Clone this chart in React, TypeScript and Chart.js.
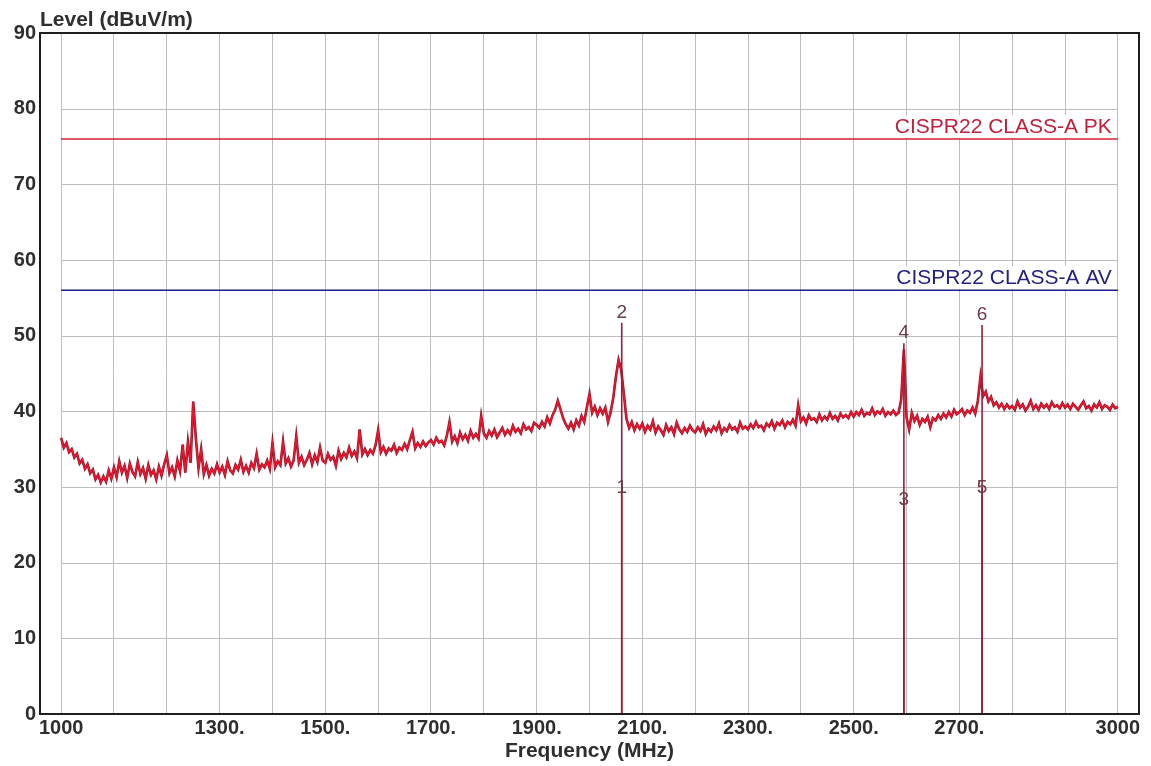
import React, { useEffect, useRef } from "react";
import { Chart, registerables } from "chart.js";

Chart.register(...registerables);

// ---------------- data ----------------
const traceStartMHz = 1000;
const traceStepMHz = 5;
// 1000 - 1495 MHz
const traceBandA = [
  36.5, 35.2, 35.8, 34.6, 35.0, 33.9, 34.4, 33.1, 33.6, 32.4, 33.0, 31.8, 32.3, 31.0, 31.6, 30.6, 31.4, 30.7, 32.2, 31.1,
  32.6, 31.3, 33.4, 31.9, 32.8, 31.2, 33.1, 32.0, 31.4, 33.3, 31.7, 32.5, 31.1, 32.9, 31.6, 32.2, 31.0, 32.7, 31.5, 33.0,
  34.2, 31.8, 32.6, 31.4, 33.5, 32.1, 35.6, 31.9, 36.0, 33.2, 41.3, 36.4, 32.5, 35.0, 31.7, 32.9, 31.5, 32.4, 31.8, 33.0,
  31.9, 32.7, 31.6, 33.4, 32.2, 31.8, 32.9, 32.3, 33.6, 32.0, 32.8, 31.9, 33.2, 32.5, 34.4, 32.3, 33.0, 32.6, 33.5, 32.4,
  35.8, 32.6, 33.4, 32.9, 36.0, 33.1, 33.8, 32.7, 33.5, 36.7, 33.2, 34.0, 32.9, 33.6, 34.5, 33.0, 34.2, 33.3, 35.2, 33.5,
];
// 1500 - 1995 MHz
const traceBandB = [
  33.2, 34.4, 33.6, 34.0, 32.8, 34.8, 33.7, 34.5, 33.9, 35.2, 34.1, 34.7, 33.8, 37.6, 34.3, 35.0, 34.2, 34.9, 34.4, 35.5,
  37.5, 34.6, 35.3, 34.4, 35.1, 34.8, 35.6, 34.5, 35.2, 34.9, 35.7, 35.0, 36.2, 37.3, 35.1, 35.8, 35.3, 36.0, 35.4, 35.9,
  36.2, 35.6, 36.5, 35.9, 36.1, 35.5, 36.8, 38.6, 36.0, 36.7, 35.8, 37.2, 36.3, 36.9, 36.1, 37.4, 36.5, 37.0, 36.4, 39.4,
  37.1, 36.5, 37.4, 36.8, 37.6, 36.6, 37.2, 37.8, 36.9, 37.5, 37.0, 38.1, 37.3, 37.7, 37.1, 38.3, 37.6, 37.9, 37.4, 38.5,
  38.2, 37.8, 38.6, 38.0, 39.2, 38.4, 39.5, 40.2, 41.4, 40.3, 39.1, 38.3, 37.7, 38.5, 37.6, 38.8, 38.1, 39.4, 38.6, 40.5,
];
// 2000 - 2495 MHz
const traceBandC = [
  42.3, 39.8, 40.6, 39.5, 40.4, 39.7, 40.5, 38.6, 39.9, 41.8, 44.6, 46.8, 45.5, 42.3, 39.0, 37.8, 38.6, 37.5, 38.3, 37.7,
  38.4, 37.3, 38.1, 37.6, 38.7, 37.2, 38.0, 37.5, 36.9, 38.2, 37.4, 37.9, 37.0, 38.5, 37.6, 37.1, 37.8, 37.3, 38.1, 37.5,
  37.2, 37.9, 37.4, 38.3, 37.0, 37.7, 37.3, 38.0, 37.5, 38.4, 37.1, 37.8, 37.4, 38.2, 37.6, 37.9, 37.3, 38.5, 37.7, 38.0,
  37.6, 38.3, 37.8, 38.6, 37.9, 38.1, 37.5, 38.4, 38.0, 38.7, 37.7, 38.5, 38.2, 38.8, 37.9, 38.6, 38.3, 38.9, 38.1, 40.8,
  38.7, 39.2, 38.4, 39.5, 38.9, 39.1, 38.6, 39.6, 38.8, 39.3, 38.9, 39.8, 39.0, 39.4, 38.8, 39.7, 39.2, 39.5, 39.1, 39.9,
];
// 2500 - 3000 MHz
const traceBandD = [
  39.3, 39.9, 39.5, 40.2, 39.4, 39.8, 39.6, 40.4, 39.5, 40.0, 39.7, 40.3, 39.4, 39.9, 39.6, 40.1, 39.5, 39.8, 41.6, 48.2,
  39.2, 37.6, 39.8, 38.7, 39.4, 38.2, 39.0, 38.6, 39.3, 37.9, 39.1, 38.8, 39.5, 39.0, 39.7, 39.2, 39.9, 39.3, 40.2, 39.6,
  39.9, 40.3, 39.5, 40.1, 39.8, 40.5, 39.7, 41.4, 44.6, 42.0, 42.6, 41.3, 41.9, 40.8, 41.2, 40.5, 41.0, 40.3, 40.9, 40.4,
  40.7, 40.2, 41.3, 40.5, 40.9, 40.1, 40.6, 41.4, 40.3, 40.8, 40.2, 41.0, 40.5, 40.9, 40.3, 41.2, 40.6, 40.8, 40.4, 41.1,
  40.5, 40.9, 40.3, 41.0, 40.6, 40.2, 40.8, 41.3, 40.4, 40.7, 40.1, 40.9, 40.5, 41.2, 40.3, 40.8, 40.6, 40.2, 40.9, 40.4, 40.6,
];

const limitNames = ["CISPR22 CLASS-A PK", "CISPR22 CLASS-A AV"];
const limitLevels = [76, 56];
const limitStartMHz = 1000;
const limitEndMHz = 3000;

const markerNumbers = ["1", "2", "3", "4", "5", "6"];
const markerDetectors = ["AV", "PK", "AV", "PK", "AV", "PK"];
const markerFreqs = [2061, 2061, 2595, 2595, 2743, 2743];
const markerLevels = [29.9, 51.7, 28.3, 49.0, 29.9, 51.4];

const xGridValues = [
  1000, 1100, 1200, 1300, 1400, 1500, 1600, 1700, 1800, 1900, 2000,
  2100, 2200, 2300, 2400, 2500, 2600, 2700, 2800, 2900, 3000,
];
const xLabelValues = [1000, 1300, 1500, 1700, 1900, 2100, 2300, 2500, 2700, 3000];
const xLabelTexts = ["1000", "1300.", "1500.", "1700.", "1900.", "2100.", "2300.", "2500.", "2700.", "3000"];
const yTickValues = [0, 10, 20, 30, 40, 50, 60, 70, 80, 90];

const xTitle = "Frequency (MHz)";
const yTitle = "Level (dBuV/m)";

// ---------------- styles ----------------
const FONT = '"Liberation Sans", Arial, Helvetica, sans-serif';
const TEXT = "#2e2e2e";
const GRID = "#bdbdbd";
const limitColors = ["#d8202e", "#1c1c98"];
const limitTextColors = ["#c0203c", "#23237e"];
const markerLineColor = "#a01a38";
const markerTextColor = "#6a3a46";

const overlayPlugin = {
  id: "overlay",
  beforeDatasetsDraw(chart: any) {
    const { ctx, scales } = chart;
    const x = scales.x;
    const y = scales.y;
    const x0 = x.getPixelForValue(limitStartMHz);
    const x1 = x.getPixelForValue(limitEndMHz);
    ctx.save();
    ctx.strokeStyle = GRID;
    ctx.lineWidth = 1;
    yTickValues.forEach((v) => {
      if (v === 0 || v === 90) return;
      const py = Math.round(y.getPixelForValue(v)) + 0.5;
      ctx.beginPath();
      ctx.moveTo(x0, py);
      ctx.lineTo(x1, py);
      ctx.stroke();
    });
    ctx.font = `21px ${FONT}`;
    ctx.textAlign = "right";
    ctx.textBaseline = "alphabetic";
    limitNames.forEach((name, i) => {
      const ly = y.getPixelForValue(limitLevels[i]);
      const w = ctx.measureText(name).width;
      const right = x1 - 6;
      ctx.fillStyle = "#ffffff";
      ctx.fillRect(right - w - 3, ly - 24, w + 5, 23);
      ctx.fillStyle = limitTextColors[i];
      ctx.fillText(name, right, ly - 6);
    });
    ctx.restore();
  },
  afterDatasetsDraw(chart: any) {
    const { ctx, scales } = chart;
    const x = scales.x;
    const y = scales.y;
    ctx.save();
    ctx.font = `19px ${FONT}`;
    ctx.fillStyle = markerTextColor;
    ctx.textAlign = "center";
    markerNumbers.forEach((label, i) => {
      const px = x.getPixelForValue(markerFreqs[i]);
      const py = y.getPixelForValue(markerLevels[i]);
      if (markerDetectors[i] === "PK") {
        ctx.textBaseline = "bottom";
        ctx.fillText(label, px, py - 1);
      } else {
        ctx.textBaseline = "middle";
        ctx.fillText(label, px, py);
      }
    });
    ctx.restore();
  },
  afterDraw(chart: any) {
    const { ctx, chartArea } = chart;
    ctx.save();
    ctx.strokeStyle = "#1e1e1e";
    ctx.lineWidth = 2;
    ctx.strokeRect(chartArea.left, chartArea.top, chartArea.right - chartArea.left, chartArea.bottom - chartArea.top);
    ctx.font = `bold 21px ${FONT}`;
    ctx.fillStyle = TEXT;
    ctx.textAlign = "left";
    ctx.textBaseline = "alphabetic";
    ctx.fillText(yTitle, chartArea.left, chartArea.top - 7);
    ctx.restore();
  },
};

export default function App() {
  const canvasRef = useRef<HTMLCanvasElement | null>(null);

  useEffect(() => {
    const canvas = canvasRef.current;
    if (!canvas) return;
    const levels = [...traceBandA, ...traceBandB, ...traceBandC, ...traceBandD];
    const tracePoints = levels.map((v, i) => ({ x: traceStartMHz + i * traceStepMHz, y: v }));

    const markerSets = markerFreqs.map((f, i) => ({
      label: "marker " + markerNumbers[i],
      data: [
        { x: f, y: 0 },
        { x: f, y: markerLevels[i] },
      ],
      borderColor: markerLineColor,
      borderWidth: 1.6,
      pointRadius: 0,
    }));

    const limitSets = limitNames.map((name, i) => ({
      label: name,
      data: [
        { x: limitStartMHz, y: limitLevels[i] },
        { x: limitEndMHz, y: limitLevels[i] },
      ],
      borderColor: limitColors[i],
      borderWidth: 1.5,
      pointRadius: 0,
    }));

    const chart = new Chart(canvas, {
      type: "line",
      data: {
        datasets: [
          ...markerSets,
          {
            label: "trace",
            data: tracePoints,
            borderColor: "#f2142e",
            borderWidth: 1.5,
            pointRadius: 0,
          },
          {
            label: "trace outline",
            data: tracePoints,
            borderColor: "#861424",
            borderWidth: 2.6,
            pointRadius: 0,
          },
          ...limitSets,
        ] as any,
      },
      options: {
        responsive: false,
        animation: false,
        devicePixelRatio: 1,
        layout: { padding: { left: 0, top: 33, right: 12, bottom: 0 } },
        plugins: {
          legend: { display: false },
          tooltip: { enabled: false },
        },
        elements: { line: { tension: 0 } },
        scales: {
          x: {
            type: "linear",
            min: 960,
            max: 3040,
            afterBuildTicks: (scale: any) => {
              scale.ticks = xGridValues.map((v) => ({ value: v }));
            },
            afterFit: (scale: any) => {
              scale.height = 52;
            },
            grid: { color: GRID, lineWidth: 1, drawTicks: false },
            border: { display: false },
            ticks: {
              autoSkip: false,
              maxRotation: 0,
              padding: 2,
              color: TEXT,
              font: { family: FONT, size: 20, weight: "bold" },
              callback: (value: any) => {
                const i = xLabelValues.indexOf(Number(value));
                return i >= 0 ? xLabelTexts[i] : "";
              },
            },
            title: {
              display: true,
              text: xTitle,
              color: TEXT,
              font: { family: FONT, size: 21, weight: "bold" },
              padding: { top: 0, bottom: 2 },
            },
          },
          y: {
            type: "linear",
            min: 0,
            max: 90,
            afterBuildTicks: (scale: any) => {
              scale.ticks = yTickValues.map((v) => ({ value: v }));
            },
            afterFit: (scale: any) => {
              scale.width = 40;
            },
            grid: { display: false, drawTicks: false },
            border: { display: false },
            ticks: {
              padding: 4,
              color: TEXT,
              font: { family: FONT, size: 20, weight: "bold" },
            },
          },
        },
      } as any,
      plugins: [overlayPlugin],
    });
    return () => chart.destroy();
  }, []);

  return (
    <div style={{ position: "absolute", left: 0, top: 0, width: 1151, height: 766, background: "#ffffff" }}>
      <canvas ref={canvasRef} width={1151} height={766} style={{ display: "block" }} />
    </div>
  );
}
